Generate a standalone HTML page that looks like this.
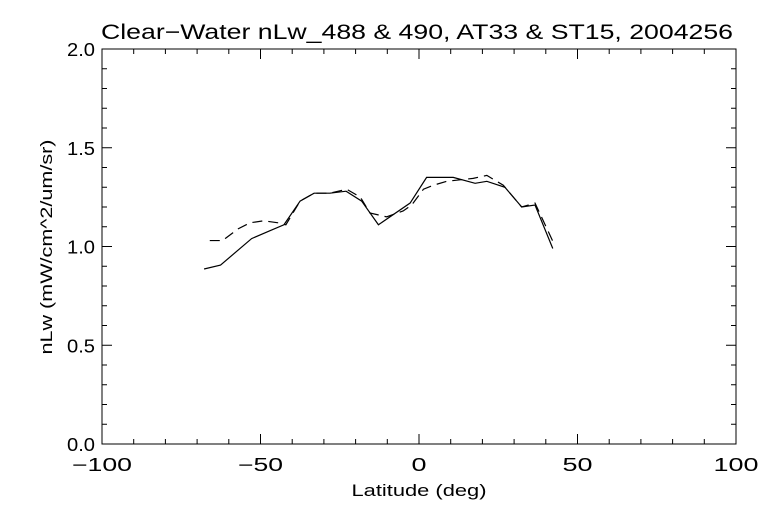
<!DOCTYPE html>
<html><head><meta charset="utf-8"><style>
html,body{margin:0;padding:0;background:#fff;}
svg{display:block;}
text{font-family:"Liberation Sans",sans-serif;fill:#000;}
</style></head><body>
<svg id="chart" width="768" height="512" viewBox="0 0 768 512" xmlns="http://www.w3.org/2000/svg">
<text x="101" y="39" font-size="21" textLength="632" lengthAdjust="spacingAndGlyphs">Clear−Water nLw_488 &amp; 490, AT33 &amp; ST15, 2004256</text>
<rect x="102" y="49" width="634" height="395" fill="none" stroke="#000" stroke-width="1"/>
<g id="axes"></g>
<g id="series"></g>
<text x="419" y="496" font-size="17" text-anchor="middle" textLength="135" lengthAdjust="spacingAndGlyphs">Latitude (deg)</text>
<text transform="translate(52,247) rotate(-90)" font-size="17" text-anchor="middle" textLength="215" lengthAdjust="spacingAndGlyphs">nLw (mW/cm^2/um/sr)</text>
</svg>
<script>
const xTicks = [-100, -50, 0, 50, 100];
const yTicks = [0.0, 0.5, 1.0, 1.5, 2.0];
const solidLat = [-67.8,-62.6,-52.8,-47.0,-42.6,-37.5,-33.1,-28.1,-23.0,-18.1,-12.8,-2.8,2.4,10.8,17.7,21.4,27.1,32.4,36.6,42.2];
const solidVal = [0.886,0.906,1.04,1.08,1.11,1.23,1.27,1.27,1.28,1.23,1.11,1.22,1.35,1.35,1.32,1.33,1.30,1.20,1.21,0.99];
const dashLat = [-66.0,-62.0,-57.0,-53.3,-49.0,-44.4,-42.0,-37.5,-33.1,-28.1,-22.8,-18.5,-15.5,-10.2,-5.0,-2.3,1.4,4.5,8.7,17.1,21.4,26.6,32.4,36.6,42.4];
const dashVal = [1.03,1.03,1.09,1.12,1.13,1.12,1.11,1.23,1.27,1.27,1.29,1.25,1.17,1.15,1.18,1.21,1.29,1.31,1.33,1.345,1.36,1.31,1.20,1.22,1.02];

const L=102,R=736,T=49,B=444;
const xs = v => L + (v + 100) / 200 * (R - L);
const ys = v => B - v / 2 * (B - T);
const NS="http://www.w3.org/2000/svg";
const axes=document.getElementById('axes');
function line(x1,y1,x2,y2,name){
  const l=document.createElementNS(NS,'line');
  l.setAttribute('x1',x1);l.setAttribute('y1',y1);l.setAttribute('x2',x2);l.setAttribute('y2',y2);
  l.setAttribute('stroke','#000');l.setAttribute('stroke-width','1');
  
  
  axes.appendChild(l);
}
for(let v=-100;v<=100;v+=10){
  const big = v%50===0, len = big?10:5, x=xs(v);
  line(x,B,x,B-len,'x-tick');
  line(x,T,x,T+len,'x-tick-top');
}
for(let i=0;i<=20;i++){
  const v=i/10, big=i%5===0, len=big?10:5, y=ys(v);
  line(L,y,L+len,y,'y-tick');
  line(R,y,R-len,y,'y-tick-right');
}
xTicks.forEach(v=>{
  const t=document.createElementNS(NS,'text');
  const s=(v<0?'−':'')+Math.abs(v);
  t.setAttribute('x',xs(v));t.setAttribute('y',471);t.setAttribute('font-size','18');t.setAttribute('text-anchor','middle');
  t.setAttribute('textLength', s.length*15);
  t.setAttribute('lengthAdjust','spacingAndGlyphs');
  t.textContent=s;
  
  
  axes.appendChild(t);
});
yTicks.forEach(v=>{
  const t=document.createElementNS(NS,'text');
  t.setAttribute('x',95);t.setAttribute('y',ys(v)+7);t.setAttribute('font-size','18');t.setAttribute('text-anchor','end');
  t.setAttribute('textLength', 28);
  t.setAttribute('lengthAdjust','spacingAndGlyphs');
  t.textContent=v.toFixed(1);
  
  
  axes.appendChild(t);
});
const series=document.getElementById('series');
function poly(lat,val,dash,name){
  const p=document.createElementNS(NS,'polyline');
  p.setAttribute('points',lat.map((a,i)=>xs(a)+','+ys(val[i])).join(' '));
  p.setAttribute('fill','none');p.setAttribute('stroke','#000');p.setAttribute('stroke-width','1.2');
  if(dash)p.setAttribute('stroke-dasharray','10,6');
  
  
  series.appendChild(p);
}
poly(solidLat,solidVal,false,'series-solid');
poly(dashLat,dashVal,true,'series-dashed');
</script>
</body></html>
